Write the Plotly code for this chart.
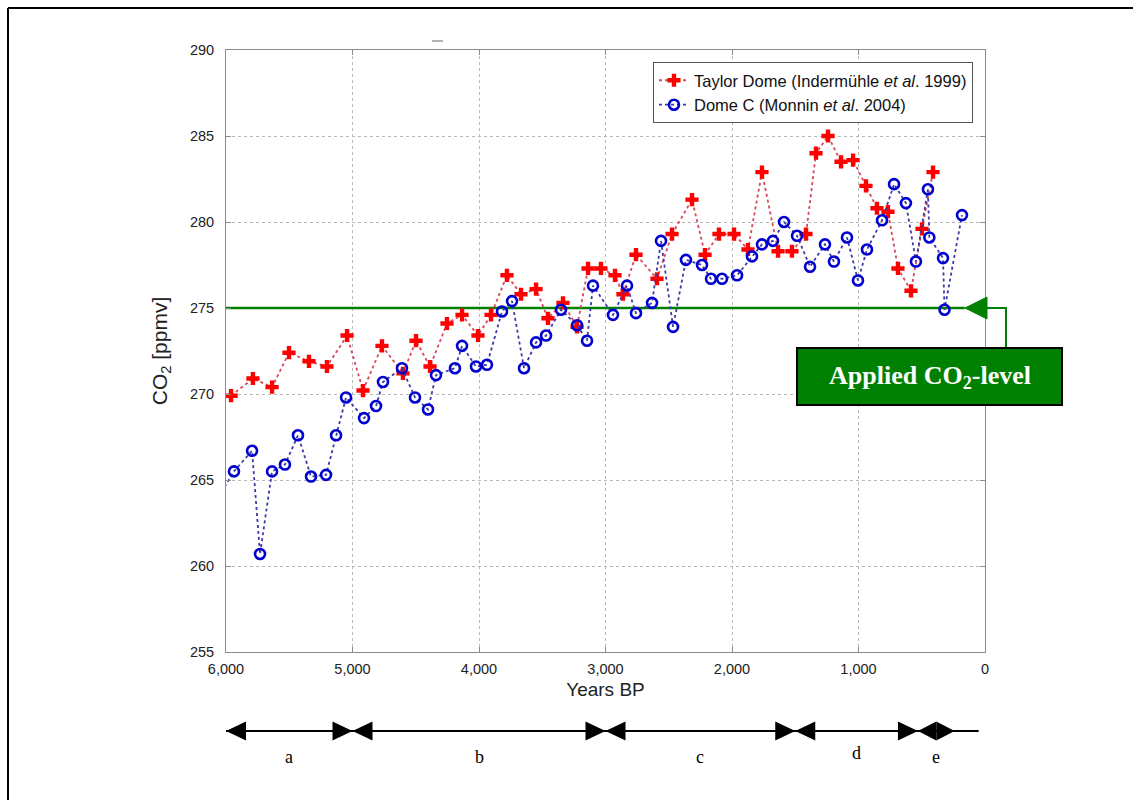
import plotly.graph_objects as go

# --- data -------------------------------------------------------------
taylor_years = [5960, 5787, 5636, 5502, 5344, 5202, 5043, 4917, 4767, 4601,
                4498, 4387, 4253, 4134, 4008, 3905, 3779, 3668, 3549, 3455,
                3336, 3225, 3138, 3036, 2925, 2862, 2759, 2593, 2474, 2316,
                2213, 2103, 1984, 1874, 1763, 1636, 1526, 1415, 1336, 1241,
                1138, 1043, 941, 854, 767, 688, 585, 498, 411]
taylor_co2 = [269.9, 270.9, 270.4, 272.4, 271.9, 271.6, 273.4, 270.2, 272.8, 271.2,
              273.1, 271.6, 274.1, 274.6, 273.4, 274.6, 276.9, 275.8, 276.1, 274.4,
              275.3, 273.9, 277.3, 277.3, 276.9, 275.8, 278.1, 276.7, 279.3, 281.3,
              278.1, 279.3, 279.3, 278.4, 282.9, 278.3, 278.3, 279.3, 284.0, 285.0,
              283.5, 283.6, 282.1, 280.8, 280.6, 277.3, 276.0, 279.6, 282.9]

domec_years = [6060, 5937, 5794, 5731, 5636, 5534, 5431, 5328, 5209, 5130,
               5051, 4909, 4814, 4759, 4609, 4506, 4403, 4340, 4190, 4134,
               4024, 3937, 3818, 3739, 3644, 3549, 3470, 3352, 3225, 3146,
               3099, 2941, 2830, 2759, 2632, 2561, 2466, 2364, 2237, 2166,
               2079, 1960, 1842, 1763, 1676, 1589, 1486, 1383, 1265, 1194,
               1091, 1004, 933, 814, 719, 625, 546, 451, 440, 332,
               320, 182]
domec_co2 = [264.0, 265.5, 266.7, 260.7, 265.5, 265.9, 267.6, 265.2, 265.3, 267.6,
             269.8, 268.6, 269.3, 270.7, 271.5, 269.8, 269.1, 271.1, 271.5, 272.8,
             271.6, 271.7, 274.8, 275.4, 271.5, 273.0, 273.4, 274.9, 274.0, 273.1,
             276.3, 274.6, 276.3, 274.7, 275.3, 278.9, 273.9, 277.8, 277.5, 276.7,
             276.7, 276.9, 278.0, 278.7, 278.9, 280.0, 279.2, 277.4, 278.7, 277.7,
             279.1, 276.6, 278.4, 280.1, 282.2, 281.1, 277.7, 281.9, 279.1, 277.9,
             274.9, 280.4]

applied_level = 275
x_ticks = [6000, 5000, 4000, 3000, 2000, 1000, 0]
y_ticks = [255, 260, 265, 270, 275, 280, 285, 290]

# periods drawn on the timeline under the axis (years BP)
period_labels = ["a", "b", "c", "d", "e"]
period_bounds = [6000, 5000, 3000, 1500, 530, 240]
timeline_end = 50

# --- layout geometry (pixels of the 1133 x 800 page) -------------------
W, H = 1133, 800
L, R, T, B = 226, 985, 50, 652


def px(x):
    return (x - L) / (R - L)


def py(y):
    return (B - y) / (B - T)


def yr(year):
    return (6000 - year) / 6000


fig = go.Figure()

fig.add_trace(go.Scatter(
    x=taylor_years, y=taylor_co2, mode="lines+markers",
    name="Taylor Dome (Indermühle <i>et al</i>. 1999)",
    line=dict(color="#d9485a", width=1.8, dash="dot"),
    marker=dict(symbol="cross", size=11, color="#ff0000",
                line=dict(width=0)),
))
fig.add_trace(go.Scatter(
    x=domec_years, y=domec_co2, mode="lines+markers",
    name="Dome C (Monnin <i>et al</i>. 2004)",
    line=dict(color="#3a3aa8", width=1.8, dash="dot"),
    marker=dict(symbol="circle-open", size=10, color="#0000d0",
                line=dict(width=2.6, color="#0000d0")),
))

shapes = []
green = "#008000"

# applied CO2 level across the plot
shapes.append(dict(type="line", xref="x", yref="y", layer="between",
                   x0=6000, x1=160, y0=applied_level, y1=applied_level,
                   line=dict(color=green, width=2.5)))
# arrow head pointing at the level line and the elbow connector to the box
ly = py(308)
shapes.append(dict(type="path", xref="paper", yref="paper",
                   path=f"M{px(965)},{ly} L{px(987)},{py(297)} L{px(987)},{py(319)} Z",
                   fillcolor=green, line=dict(color=green, width=1)))
shapes.append(dict(type="path", xref="paper", yref="paper",
                   path=f"M{px(987)},{ly} L{px(1006)},{ly} L{px(1006)},{py(347)}",
                   line=dict(color=green, width=2)))
# label box
shapes.append(dict(type="rect", xref="paper", yref="paper",
                   x0=px(797), x1=px(1062), y0=py(405), y1=py(348),
                   fillcolor=green, line=dict(color="#000000", width=2)))

# outer frame (top and left edges)
shapes.append(dict(type="line", xref="paper", yref="paper",
                   x0=px(8), x1=px(1133), y0=py(8), y1=py(8),
                   line=dict(color="#000000", width=2)))
shapes.append(dict(type="line", xref="paper", yref="paper",
                   x0=px(8), x1=px(8), y0=py(8), y1=py(800),
                   line=dict(color="#000000", width=2)))
# small stray dash above the plot
shapes.append(dict(type="line", xref="paper", yref="paper",
                   x0=px(432), x1=px(443), y0=py(41), y1=py(41),
                   line=dict(color="#9a9a9a", width=1.5)))

# timeline of periods below the x axis
ty = py(731)
hh = 9.5 / (B - T)
aw = 20 / (R - L)
shapes.append(dict(type="line", xref="paper", yref="paper",
                   x0=yr(period_bounds[0]), x1=yr(timeline_end), y0=ty, y1=ty,
                   line=dict(color="#000000", width=2)))


def head(tip, direction, w=aw):
    base = tip - direction * w
    return dict(type="path", xref="paper", yref="paper",
                path=f"M{tip},{ty} L{base},{ty + hh} L{base},{ty - hh} Z",
                fillcolor="#000000", line=dict(color="#000000", width=0))


for i in range(len(period_labels)):
    a, b = yr(period_bounds[i]), yr(period_bounds[i + 1])
    w = min(aw, (b - a) / 2)
    shapes.append(head(a, -1, w))
    shapes.append(head(b, 1, w))

annotations = [
    dict(text="<b>Applied CO<sub>2</sub>-level</b>", xref="paper", yref="paper",
         x=px(929.5), y=py(377), xanchor="center", yanchor="middle", showarrow=False,
         font=dict(family="Liberation Serif, Times New Roman, serif", size=26,
                   color="#ffffff")),
]
label_y = [757, 757, 757, 753, 757]
for i, lab in enumerate(period_labels):
    mid = (yr(period_bounds[i]) + yr(period_bounds[i + 1])) / 2
    annotations.append(dict(
        text=lab, xref="paper", yref="paper", x=mid, y=py(label_y[i]),
        xanchor="center", yanchor="middle", showarrow=False,
        font=dict(family="Liberation Serif, Times New Roman, serif", size=18,
                  color="#000000")))

axis_font = dict(family="Liberation Sans, Arial, sans-serif", size=14.5, color="#222222")
common_axis = dict(
    showline=True, linecolor="#8c8c8c", linewidth=1, mirror="ticks",
    ticks="inside", ticklen=5, tickcolor="#8c8c8c",
    showgrid=True, gridcolor="#b8b8b8", griddash="dot", gridwidth=1,
    zeroline=False, tickfont=axis_font,
)

fig.update_layout(
    width=W, height=H,
    margin=dict(l=L, r=W - R, t=T, b=H - B, pad=0),
    paper_bgcolor="#ffffff", plot_bgcolor="#ffffff",
    font=dict(family="Liberation Sans, Arial, sans-serif", color="#222222"),
    xaxis=dict(range=[6000, 0], tickvals=x_ticks, tickformat=",",
               title=dict(text="Years BP", standoff=6,
                          font=dict(family="Liberation Sans, Arial, sans-serif", size=19)),
               ticklabelstandoff=4, **common_axis),
    yaxis=dict(range=[255, 290], tickvals=y_ticks,
               title=dict(text="CO<sub>2</sub> [ppmv]", standoff=16,
                          font=dict(family="Liberation Sans, Arial, sans-serif", size=21)),
               ticklabelstandoff=8, **common_axis),
    legend=dict(x=px(973), y=py(62), xanchor="right", yanchor="top",
                bgcolor="#ffffff", bordercolor="#555555", borderwidth=1,
                font=dict(family="Liberation Sans, Arial, sans-serif", size=16.5,
                          color="#111111"),
                itemwidth=30, tracegroupgap=0),
    shapes=shapes,
    annotations=annotations,
    showlegend=True,
)

fig.write_html("out.html")
